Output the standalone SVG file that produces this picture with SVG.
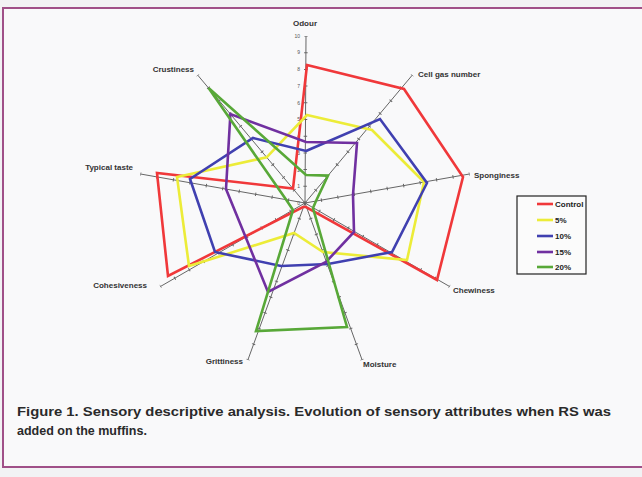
<svg xmlns="http://www.w3.org/2000/svg" width="642" height="477" viewBox="0 0 642 477">
<style>
.ax{stroke:#666;stroke-width:1;fill:none}
.tk{stroke:#666;stroke-width:3.5;fill:none;stroke-dasharray:1 15.7;stroke-dashoffset:-16.2}
.s{fill:none;stroke-width:2.6;stroke-linejoin:miter}
.lab{font-family:"Liberation Sans",Arial,sans-serif;font-size:8px;font-weight:bold;fill:#333}
.num{font-family:"Liberation Sans",Arial,sans-serif;font-size:5px;fill:#555;text-anchor:end}
.leg{font-family:"Liberation Sans",Arial,sans-serif;font-size:8px;font-weight:bold;fill:#222}
.cap{font-family:"Liberation Sans",Arial,sans-serif;font-size:12.5px;font-weight:bold;fill:#2a2a2a}
</style>
<rect x="0" y="0" width="642" height="477" fill="#f2f2f4"/>
<rect x="3" y="8" width="645" height="459" fill="#f9f9fa" stroke="#a05088" stroke-width="2"/>
<g id="axes">
<line class="ax" x1="305" y1="203" x2="306" y2="36"/>
<line class="ax" x1="305" y1="203" x2="412.3" y2="75.1"/>
<line class="ax" x1="305" y1="203" x2="469.5" y2="174"/>
<line class="ax" x1="305" y1="203" x2="449.6" y2="286.5"/>
<line class="ax" x1="305" y1="203" x2="362.1" y2="359.9"/>
<line class="ax" x1="305" y1="203" x2="247.9" y2="359.9"/>
<line class="ax" x1="305" y1="203" x2="160.4" y2="286.5"/>
<line class="ax" x1="305" y1="203" x2="140.5" y2="174"/>
<line class="ax" x1="305" y1="203" x2="197.7" y2="75.1"/>
<line class="tk" x1="305" y1="203" x2="306" y2="36"/>
<line class="tk" x1="305" y1="203" x2="412.3" y2="75.1"/>
<line class="tk" x1="305" y1="203" x2="469.5" y2="174"/>
<line class="tk" x1="305" y1="203" x2="449.6" y2="286.5"/>
<line class="tk" x1="305" y1="203" x2="362.1" y2="359.9"/>
<line class="tk" x1="305" y1="203" x2="247.9" y2="359.9"/>
<line class="tk" x1="305" y1="203" x2="160.4" y2="286.5"/>
<line class="tk" x1="305" y1="203" x2="140.5" y2="174"/>
<line class="tk" x1="305" y1="203" x2="197.7" y2="75.1"/>
</g>
<g id="scale">
<text class="num" x="300" y="205">0</text>
<text class="num" x="300" y="188">1</text>
<text class="num" x="300" y="172">2</text>
<text class="num" x="300" y="155">3</text>
<text class="num" x="300" y="138">4</text>
<text class="num" x="300" y="121">5</text>
<text class="num" x="300" y="105">6</text>
<text class="num" x="300" y="88">7</text>
<text class="num" x="300" y="71">8</text>
<text class="num" x="300" y="54">9</text>
<text class="num" x="300" y="38">10</text>
</g>
<g id="labels">
<text class="lab" x="305" y="26" text-anchor="middle">Odour</text>
<text class="lab" x="418" y="77">Cell gas number</text>
<text class="lab" x="474" y="178">Sponginess</text>
<text class="lab" x="453" y="293">Chewiness</text>
<text class="lab" x="363" y="367">Moisture</text>
<text class="lab" x="243" y="364" text-anchor="end">Grittiness</text>
<text class="lab" x="147" y="288" text-anchor="end">Cohesiveness</text>
<text class="lab" x="133" y="170" text-anchor="end">Typical taste</text>
<text class="lab" x="194" y="72" text-anchor="end">Crustiness</text>
</g>
<g id="connectors">
<polygon id="control" class="s" stroke="#f0383a" points="307,65 404,89 463,177 437,280 306,207 303,207 168,276 157,173 293,188.5"/>
<polygon id="p5" class="s" stroke="#ecec38" points="307,115 372,130 424,182 407,260 323,252 294,233 189,266 177,177 266.6,157.3"/>
<polygon id="p10" class="s" stroke="#4040b0" points="306,151 380,119 427,183 392,252 328,264 281,266 215,252 190,179 253,138"/>
<polygon id="p15" class="s" stroke="#7030a0" points="306,142 357,143 353,195 354,232 326,262 268,292 245.7,237.3 226,189 230.4,114.1"/>
<polygon id="p20" class="s" stroke="#58a838" points="306,175 328,175.6 316,201 313,208 347,327 256,331 293,210 286,199.6 208.6,88"/>
</g>
<g id="legend">
<rect x="517" y="196" width="69" height="78" fill="#fbfbfb" stroke="#222" stroke-width="1.2"/>
<line x1="537" y1="204" x2="553" y2="204" stroke="#f0383a" stroke-width="2.6"/>
<text class="leg" x="555" y="207">Control</text>
<line x1="537" y1="220" x2="553" y2="220" stroke="#ecec38" stroke-width="2.6"/>
<text class="leg" x="555" y="223">5%</text>
<line x1="537" y1="236" x2="553" y2="236" stroke="#4040b0" stroke-width="2.6"/>
<text class="leg" x="555" y="239">10%</text>
<line x1="537" y1="252" x2="553" y2="252" stroke="#7030a0" stroke-width="2.6"/>
<text class="leg" x="555" y="255">15%</text>
<line x1="537" y1="267" x2="553" y2="267" stroke="#58a838" stroke-width="2.6"/>
<text class="leg" x="555" y="270">20%</text>
</g>
<g id="caption">
<text class="cap" x="17" y="416" textLength="594" lengthAdjust="spacingAndGlyphs">Figure 1. Sensory descriptive analysis. Evolution of sensory attributes when RS was</text>
<text class="cap" x="17" y="435">added on the muffins.</text>
</g>
</svg>
